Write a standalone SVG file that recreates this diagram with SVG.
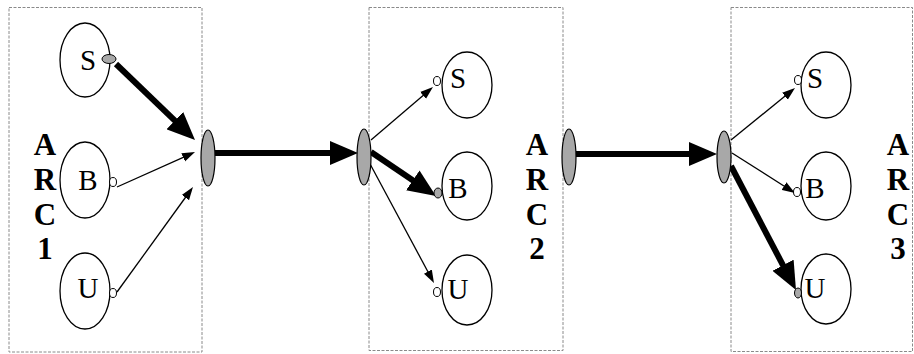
<svg xmlns="http://www.w3.org/2000/svg" width="914" height="354" viewBox="0 0 914 354">
<style>
.box{fill:none;stroke:#8a8a8a;stroke-width:1;stroke-dasharray:3,1.5}
.node{fill:#fff;stroke:#000;stroke-width:1.3}
.hub{fill:#a8a8a8;stroke:#000;stroke-width:1.2}
.pw{fill:#fff;stroke:#000;stroke-width:1}
.pg{fill:#a8a8a8;stroke:#000;stroke-width:1}
.thick{stroke:#000;stroke-width:6;fill:none;marker-end:url(#big)}
.thin{stroke:#000;stroke-width:1.3;fill:none;marker-end:url(#small)}
</style>
<defs>
<marker id="big" markerUnits="userSpaceOnUse" markerWidth="28" markerHeight="24" refX="8" refY="12" orient="auto" viewBox="0 0 28 24">
<path d="M0,0 L28,12 L0,24 z" fill="#000"/>
</marker>
<marker id="small" markerUnits="userSpaceOnUse" markerWidth="13" markerHeight="10" refX="5" refY="5" orient="auto" viewBox="0 0 13 10">
<path d="M0,0.5 L13,5 L0,9.5 z" fill="#000"/>
</marker>
</defs>
<g id="boxes">
<rect class="box" x="9" y="7.5" width="193" height="344.5"/>
<rect class="box" x="369" y="7.5" width="194" height="343"/>
<rect class="box" x="731" y="7.5" width="181.5" height="344"/>
</g>
<g font-family="Liberation Serif, serif" font-size="31" font-weight="bold" text-anchor="middle" fill="#000">
<g id="arc1-label">
<text x="45" y="155">A</text>
<text x="45" y="190">R</text>
<text x="45" y="225">C</text>
<text x="45" y="259">1</text>
</g>
<g id="arc2-label">
<text x="537" y="155">A</text>
<text x="537" y="190">R</text>
<text x="537" y="225">C</text>
<text x="537" y="259">2</text>
</g>
<g id="arc3-label">
<text x="898" y="155">A</text>
<text x="898" y="190">R</text>
<text x="898" y="225">C</text>
<text x="898" y="259">3</text>
</g>
</g>
<g id="connectors">
<line class="thick" x1="116" y1="64" x2="180.6" y2="126.1"/>
<line class="thin" x1="117" y1="187" x2="187.7" y2="155.3"/>
<line class="thin" x1="117" y1="292" x2="188.3" y2="193.5"/>
<line class="thick" x1="215" y1="153" x2="338" y2="153"/>
<line class="thin" x1="371" y1="140" x2="426.9" y2="92.2"/>
<line class="thick" x1="371" y1="152" x2="419.4" y2="184.8"/>
<line class="thin" x1="369" y1="162" x2="430.2" y2="276"/>
<line class="thick" x1="576" y1="154" x2="697" y2="154"/>
<line class="thin" x1="731" y1="140" x2="788.8" y2="93"/>
<line class="thin" x1="732" y1="153" x2="788.2" y2="188.7"/>
<line class="thick" x1="731" y1="166" x2="786.7" y2="272.3"/>
</g>
<g font-family="Liberation Serif, serif" font-size="29" text-anchor="middle" fill="#000">
<g id="arc1-S"><ellipse class="node" cx="85" cy="60" rx="25" ry="37"/><text x="88" y="70">S</text><ellipse class="pg" cx="109" cy="59" rx="7" ry="4.5"/></g>
<g id="arc1-B"><ellipse class="node" cx="85" cy="180" rx="25" ry="38"/><text x="88" y="190">B</text><ellipse class="pw" cx="113" cy="182" rx="3.5" ry="4.5"/></g>
<g id="arc1-U"><ellipse class="node" cx="85" cy="291" rx="25" ry="38"/><text x="88" y="298">U</text><ellipse class="pw" cx="113" cy="293" rx="3.5" ry="4.5"/></g>
<g id="arc2-S"><ellipse class="node" cx="467" cy="85" rx="25" ry="33"/><text x="458" y="88">S</text><ellipse class="pw" cx="437" cy="81" rx="3.5" ry="4.5"/></g>
<g id="arc2-B"><ellipse class="node" cx="467" cy="186" rx="25" ry="34"/><text x="458" y="198">B</text><ellipse class="pg" cx="438" cy="193" rx="4" ry="5"/></g>
<g id="arc2-U"><ellipse class="node" cx="467" cy="290" rx="25" ry="35"/><text x="458" y="299">U</text><ellipse class="pw" cx="437" cy="292" rx="3.5" ry="4.5"/></g>
<g id="arc3-S"><ellipse class="node" cx="826" cy="85" rx="25" ry="33"/><text x="815" y="88">S</text><ellipse class="pw" cx="798" cy="80" rx="3.5" ry="4.5"/></g>
<g id="arc3-B"><ellipse class="node" cx="826" cy="186" rx="25" ry="34"/><text x="815" y="198">B</text><ellipse class="pw" cx="797" cy="192" rx="3.5" ry="4.5"/></g>
<g id="arc3-U"><ellipse class="node" cx="826" cy="289" rx="25" ry="35"/><text x="815" y="298">U</text><ellipse class="pg" cx="798" cy="293" rx="3.5" ry="5"/></g>
</g>
<g id="arc1-out"><ellipse class="hub" cx="208" cy="158" rx="7" ry="28"/></g>
<g id="arc2-in"><ellipse class="hub" cx="364" cy="157" rx="7" ry="28"/></g>
<g id="arc2-out"><ellipse class="hub" cx="569" cy="157" rx="7" ry="28"/></g>
<g id="arc3-in"><ellipse class="hub" cx="724" cy="157" rx="7" ry="26"/></g>
</svg>
